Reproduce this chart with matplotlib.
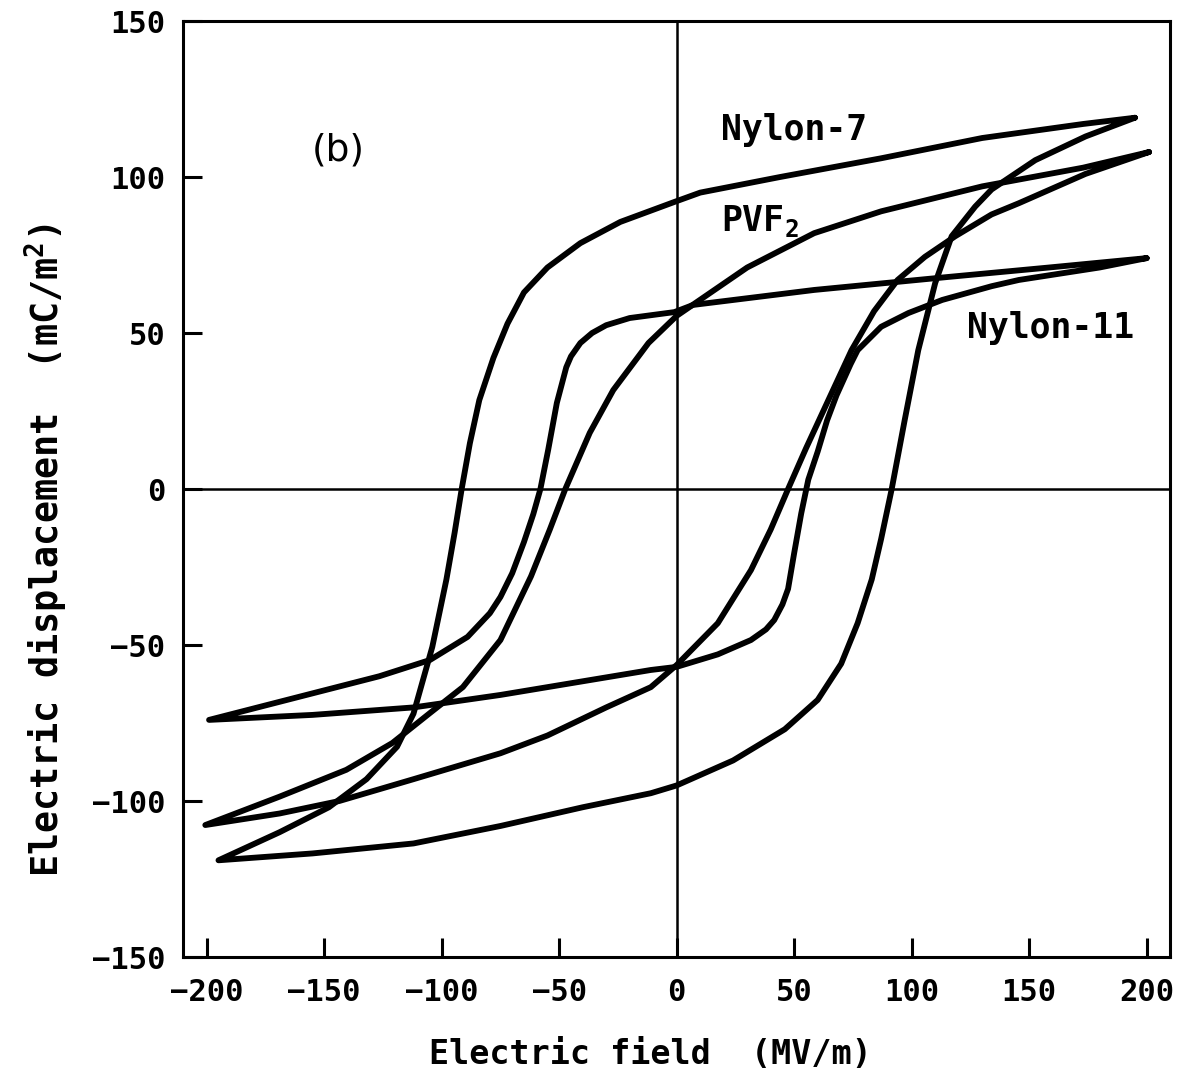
import matplotlib
matplotlib.use('Agg')
import matplotlib.pyplot as plt

# values, field in MV/m, displacement in mC/m^2
# each loop: branch going down in field (upper) and going up in field (lower)
n7_up_x = [195, 173, 130, 87, 44, 10, -1, -24, -41, -55, -65, -72, -78, -84, -88,
           -91.5, -94.5, -98, -104, -112, -119, -132, -148, -169, -195]
n7_up_y = [119, 117, 112.5, 106, 100, 95, 92, 85.6, 78.8, 71, 63, 53, 42, 28.5, 14.7,
           0, -14, -29, -50.6, -72, -82.6, -93, -102, -110, -119]
n7_lo_x = [-195, -155, -112, -75, -40, -11, 0, 24, 46, 60, 70, 77, 83, 87, 91.5,
           97, 102.8, 110, 117, 127, 134, 152.6, 174, 195]
n7_lo_y = [-119, -116.8, -113.6, -108, -102, -97.5, -95, -87, -77, -67.6, -56, -43, -29, -16, 0,
           22, 44.5, 66, 81, 90.5, 96, 105.4, 113, 119]

pvf_up_x = [201, 173, 130, 87, 58.5, 30, 0, -12, -27, -37, -47.4, -54, -62, -75, -91,
            -105, -121, -140.6, -169, -200.6]
pvf_up_y = [108, 103, 97, 89, 82, 71, 55.5, 46.8, 31.7, 18, 0, -13, -28, -48.4, -63.5,
            -71.8, -81.4, -90, -98.6, -107.7]
pvf_lo_x = [-200.6, -169, -143.6, -112, -75, -55, -30, -11, 0, 17.5, 31.6, 40, 47.4,
            55, 63, 74.4, 84, 94, 105.6, 118.5, 134, 145.6, 174, 201]
pvf_lo_y = [-107.7, -104, -100, -93, -84.7, -79, -70, -63.5, -56.4, -43, -26, -13, 0,
            13, 26, 44.5, 57, 67, 74.4, 81, 88, 91.6, 101, 108]

n11_up_x = [200, 158.5, 116, 58.5, 7, -1, -20, -30, -36, -41, -45, -47, -51, -54.7, -58, -61,
            -65, -70, -75, -79.5, -89, -105, -126.5, -155, -199]
n11_up_y = [74, 71, 68, 63.8, 59, 56.7, 54.8, 52.5, 50, 46.8, 42.5, 39, 27.6, 12.5, 0, -8,
            -17, -27, -34.6, -39.8, -47.4, -54.8, -60, -65.5, -74]
n11_lo_x = [-199, -155, -112, -75, -11, 0, 17.5, 31.6, 38, 41.5, 45, 47.4, 50, 53, 56, 60,
            64, 68, 74, 77, 87, 98.6, 113, 134, 145.6, 180, 200]
n11_lo_y = [-74, -72.4, -70, -66, -58, -57, -53, -48.4, -45, -42, -37, -32, -20.5, -7.8, 3, 12,
            22, 30, 40, 44.5, 52, 56.4, 60.6, 65, 67, 71, 74]

xticks = [-200, -150, -100, -50, 0, 50, 100, 150, 200]
yticks = [-150, -100, -50, 0, 50, 100, 150]

plt.rcParams['font.family'] = ['DejaVu Sans Mono', 'DejaVu Sans']
plt.rcParams['font.weight'] = 'bold'
plt.rcParams['mathtext.default'] = 'regular'

fig = plt.figure(figsize=(11.82, 10.77), dpi=100)
ax = fig.add_axes([0.155, 0.1114, 0.835, 0.8691])

ax.axhline(0, color='black', lw=1.8, zorder=1)
ax.axvline(0, color='black', lw=1.8, zorder=1)

for ux, uy, lx, ly in [(n7_up_x, n7_up_y, n7_lo_x, n7_lo_y),
                       (pvf_up_x, pvf_up_y, pvf_lo_x, pvf_lo_y),
                       (n11_up_x, n11_up_y, n11_lo_x, n11_lo_y)]:
    ax.plot(ux + lx, uy + ly, color='black', lw=4.2,
            solid_joinstyle='round', solid_capstyle='round', zorder=2)

ax.set_xlim(-210, 210)
ax.set_ylim(-150, 150)
ax.set_xticks(xticks)
ax.set_yticks(yticks)
ax.tick_params(direction='in', length=14, width=2.2, labelsize=22, pad=13)
ax.tick_params(axis='x', pad=15)
for s in ax.spines.values():
    s.set_linewidth(2.2)

ax.set_xlabel('Electric field  (MV/m)', fontsize=24, fontweight='bold')
ax.set_ylabel('Electric displacement  (mC/m$^2$)', fontsize=26.5, fontweight='bold')
ax.xaxis.set_label_coords(0.473, -0.087)
ax.yaxis.set_label_coords(-0.115, 0.435)

ax.text(-144, 108.6, '(b)', fontsize=27, ha='center', va='center',
        family='DejaVu Sans', weight='normal')
ax.text(18.8, 115, 'Nylon-7', fontsize=25, ha='left', va='center')
ax.text(18.8, 86, 'PVF$_2$', fontsize=25, ha='left', va='center')
ax.text(123.5, 51.6, 'Nylon-11', fontsize=25, ha='left', va='center')

fig.savefig('out.png', dpi=100)
